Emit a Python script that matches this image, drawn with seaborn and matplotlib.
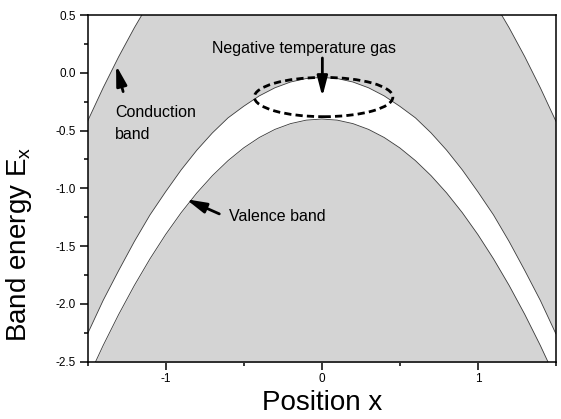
import numpy as np
import pandas as pd
import matplotlib
matplotlib.use("Agg")
import matplotlib.pyplot as plt
from matplotlib.patches import Ellipse
import seaborn as sns

# ---- data ----
position = [-1.5, -1.4, -1.3, -1.2, -1.1, -1.0, -0.9, -0.8, -0.7, -0.6, -0.5,
            -0.4, -0.3, -0.2, -0.1, 0.0, 0.1, 0.2, 0.3, 0.4, 0.5, 0.6, 0.7,
            0.8, 0.9, 1.0, 1.1, 1.2, 1.3, 1.4, 1.5]
half_upper = [-0.42, -0.13, 0.14, 0.39, 0.62, 0.83, 1.02, 1.19, 1.34, 1.47,
              1.58, 1.67, 1.74, 1.79, 1.82, 1.83]
half_middle = [-2.26, -1.97, -1.71, -1.46, -1.23, -1.03, -0.84, -0.67, -0.52,
               -0.39, -0.29, -0.20, -0.13, -0.08, -0.05, -0.04]
half_lower = [-2.65, -2.36, -2.09, -1.84, -1.61, -1.40, -1.21, -1.04, -0.89,
              -0.76, -0.65, -0.56, -0.49, -0.44, -0.41, -0.40]
conduction_top = half_upper + half_upper[-2::-1]
conduction_bottom = half_middle + half_middle[-2::-1]
valence_top = half_lower + half_lower[-2::-1]

x_ticks = [-1, 0, 1]
y_ticks = [0.5, 0.0, -0.5, -1.0, -1.5, -2.0, -2.5]

df = pd.DataFrame({"x": position, "ct": conduction_top,
                   "cb": conduction_bottom, "vt": valence_top})

sns.set_theme(style="ticks")
plt.rcParams["font.family"] = ["Liberation Sans", "DejaVu Sans"]
plt.rcParams["mathtext.fontset"] = "custom"
plt.rcParams["mathtext.rm"] = "Liberation Sans"
for k in ["text.color", "axes.labelcolor", "xtick.color", "ytick.color",
          "xtick.labelcolor", "ytick.labelcolor", "axes.edgecolor"]:
    plt.rcParams[k] = "black"

fig = plt.figure(figsize=(5.61, 4.19), dpi=100)
ax = fig.add_axes([0.156, 0.1368, 0.835, 0.8274])

gray = "#d4d4d4"
ax.fill_between(df["x"], df["cb"], df["ct"], color=gray, lw=0, zorder=1)
ax.fill_between(df["x"], -3.0, df["vt"], color=gray, lw=0, zorder=1)
for col in ["ct", "cb", "vt"]:
    sns.lineplot(data=df, x="x", y=col, ax=ax, color="#3a3a3a", lw=0.6,
                 zorder=2)

ax.set_xlim(-1.5, 1.5)
ax.set_ylim(-2.5, 0.5)
ax.set_xticks(x_ticks)
ax.set_xticklabels([str(t) for t in x_ticks])
ax.set_xticks([-1.5, -0.5, 0.5, 1.5], minor=True)
ax.set_yticks(y_ticks)
ax.set_yticklabels([f"{t:.1f}" for t in y_ticks])
ax.set_yticks(np.arange(-2.25, 0.5, 0.5), minor=True)
ax.tick_params(which="major", direction="out", length=5.5, width=1.1,
               labelsize=8.5, pad=3, colors="black")
ax.tick_params(which="minor", direction="out", length=2.8, width=1.1,
               colors="black")
for s in ax.spines.values():
    s.set_linewidth(1.1)
    s.set_color("black")
    s.set_visible(True)

ax.set_xlabel("Position x", fontsize=20, color="black")
ax.set_ylabel(r"Band energy E$_\mathregular{x}$", fontsize=20, color="black")
ax.xaxis.set_label_coords(0.5, -0.082)
ax.yaxis.set_label_coords(-0.115, 0.34)

# ellipse marking the gas
ax.add_patch(Ellipse((0.012, -0.21), 0.887, 0.34, fill=False, color="black",
                     lw=2.0, ls=(0, (2.6, 1.5)), zorder=4))

arrow = dict(arrowstyle="-|>,head_length=1.0,head_width=0.26", color="black",
             lw=2.0, shrinkA=0, shrinkB=0)
ax.annotate("", xy=(0.004, -0.207), xytext=(0.004, 0.128),
            arrowprops=arrow, zorder=5)
ax.annotate("", xy=(-1.317, 0.065), xytext=(-1.272, -0.163),
            arrowprops=arrow, zorder=5)
ax.annotate("", xy=(-0.869, -1.094), xytext=(-0.656, -1.221),
            arrowprops=arrow, zorder=5)

tfs = 11.5
ax.text(-0.705, 0.174, "Negative temperature gas", fontsize=tfs,
        ha="left", va="baseline", zorder=6, color="black")
ax.text(-1.324, -0.38, "Conduction", fontsize=tfs, ha="left",
        va="baseline", zorder=6, color="black")
ax.text(-1.324, -0.575, "band", fontsize=tfs, ha="left", va="baseline",
        zorder=6, color="black")
ax.text(-0.594, -1.282, "Valence band", fontsize=tfs, ha="left",
        va="baseline", zorder=6, color="black")

fig.savefig("out.png", dpi=100)
